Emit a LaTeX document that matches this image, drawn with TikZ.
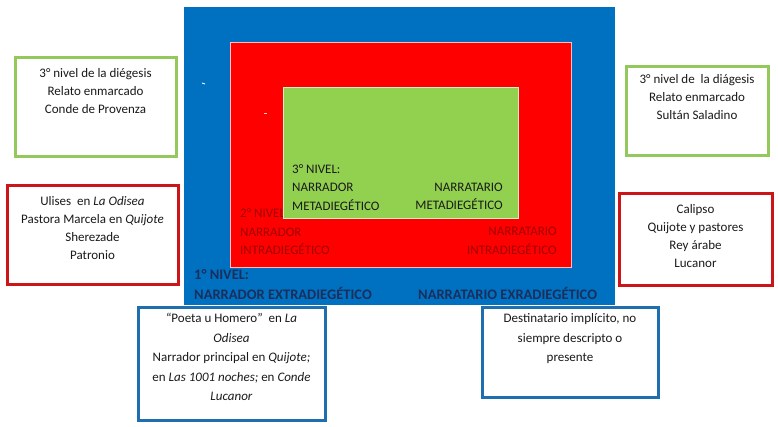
\documentclass[tikz,border=0pt]{standalone}
\usepackage{fontspec}
\setmainfont{Carlito}
\definecolor{bigblue}{HTML}{0070C0}
\definecolor{bigred}{HTML}{FF0000}
\definecolor{biggreen}{HTML}{92D050}
\definecolor{gborder}{HTML}{93C95C}
\definecolor{rborder}{HTML}{CC1518}
\definecolor{bborder}{HTML}{1F6FB0}
\definecolor{navy}{HTML}{1B2F5C}
\definecolor{darkred}{HTML}{A00000}
\definecolor{inktxt}{HTML}{1A1A1A}
\begin{document}
\begin{tikzpicture}[x=1pt,y=-1pt,
  panel/.style={anchor=north west,inner sep=0pt,outer sep=0pt},
  infobox/.style={anchor=north west,inner sep=0pt,outer sep=0pt,line width=3pt,fill=white},
  boxtext/.style={anchor=north,align=center,inner sep=0pt,text=inktxt,font=\fontsize{13}{18}\selectfont},
  boxtextb/.style={boxtext,font=\fontsize{13}{19.5}\selectfont},
  lvl/.style={inner sep=0pt,font=\fontsize{13}{18.5}\selectfont},
  lvlone/.style={inner sep=0pt,font=\bfseries\fontsize{14.5}{20}\selectfont,text=navy}]
\useasboundingbox (0,0) rectangle (778,426);

% level 1
\node[panel,fill=bigblue,minimum width=431pt,minimum height=298pt] (blue) at (184,7) {};
\node[lvlone,anchor=north west,align=left] (n1l) at (194,269.5) {1° NIVEL:\\NARRADOR EXTRADIEGÉTICO};
\node[lvlone,anchor=north west] (n1r) at (418,287.5) {NARRATARIO EXRADIEGÉTICO};
\draw[white,line width=0.8pt] (202,83) -- (205,84);

% level 2
\node[panel,fill=bigred,draw=white!75!bigred,line width=0.8pt,minimum width=341pt,minimum height=225pt] (red) at (230,42) {};
\node[lvl,text=darkred,anchor=north west,align=left] (n2l) at (240,208.5) {2° NIVEL:\\NARRADOR\\INTRADIEGÉTICO};
\node[lvl,text=darkred,anchor=north east,align=right] (n2r) at (557,227) {NARRATARIO\\INTRADIEGÉTICO};
\draw[white!80!bigred,line width=0.8pt] (264,113) -- (267,113);

% level 3
\node[panel,fill=biggreen,draw=white!70!biggreen,line width=0.8pt,minimum width=235pt,minimum height=131pt] (green) at (283,87) {};
\node[lvl,text=inktxt,anchor=north west,align=left] (n3l) at (292,164) {3° NIVEL:\\NARRADOR\\METADIEGÉTICO};
\node[lvl,text=inktxt,anchor=north east,align=right] (n3r) at (503,182.5) {NARRATARIO\\METADIEGÉTICO};

% side boxes
\node[infobox,draw=gborder,minimum width=161pt,minimum height=99pt] (gl) at (15,57) {};
\node[boxtext] (glt) at (95.5,68) {3° nivel de la diégesis\\Relato enmarcado\\Conde de Provenza};

\node[infobox,draw=rborder,minimum width=171pt,minimum height=99pt] (rl) at (7,185) {};
\node[boxtext] (rlt) at (92.5,196) {Ulises\ \ en \textit{La Odisea}\\Pastora Marcela en \textit{Quijote}\\Sherezade\\Patronio};

\node[infobox,draw=gborder,minimum width=142pt,minimum height=89pt] (gr) at (626,66) {};
\node[boxtext] (grt) at (697,74.5) {3° nivel de \ la diágesis\\Relato enmarcado\\Sultán Saladino};

\node[infobox,draw=rborder,minimum width=153pt,minimum height=92pt] (rr) at (619,193) {};
\node[boxtext] (rrt) at (695.5,204) {Calipso\\Quijote y pastores\\Rey árabe\\Lucanor};

\node[infobox,draw=bborder,minimum width=187pt,minimum height=113pt] (bl) at (138,307) {};
\node[boxtextb] (blt) at (231.5,313) {“Poeta u Homero”\ \ en \textit{La}\\\textit{Odisea}\\Narrador principal en \textit{Quijote;}\\en \textit{Las 1001 noches;} en \textit{Conde}\\\textit{Lucanor}};

\node[infobox,draw=bborder,minimum width=176pt,minimum height=90pt] (br) at (482,307) {};
\node[boxtextb] (brt) at (570,313.5) {Destinatario implícito, no\\siempre descripto o\\presente};
\end{tikzpicture}
\end{document}
